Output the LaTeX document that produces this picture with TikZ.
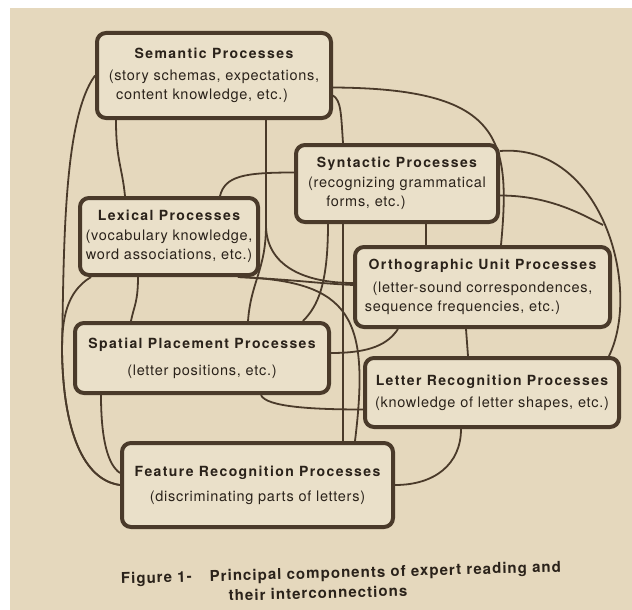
\documentclass[tikz,border=0pt]{standalone}
\usepackage{fontspec}
\setmainfont{TeX Gyre Heros}
\usepackage{tikz}

\definecolor{paper}{RGB}{229,216,189}
\definecolor{boxfill}{RGB}{234,224,201}
\definecolor{ink}{RGB}{74,58,42}
\definecolor{textink}{RGB}{42,34,26}

\newcommand{\proctitle}[1]{{\fontsize{14}{19}\selectfont\bfseries\addfontfeature{LetterSpace=10}#1}}

\begin{document}
\begin{tikzpicture}[
	x=1pt, y=-1pt,
	proc/.style={
		draw=ink, line width=4pt,
		rounded corners=9pt,
		fill=boxfill,
		inner sep=0pt,
		align=center,
		text=textink,
		font=\fontsize{14.5}{19}\selectfont\addfontfeature{LetterSpace=5}
	},
	link/.style={draw=ink, line width=1.8pt},
	caption/.style={
		text=textink, inner sep=0pt, rotate=1.5,
		font=\fontsize{15}{18}\selectfont\bfseries\addfontfeature{LetterSpace=7}
	}
]
\useasboundingbox (0,0) rectangle (632,610);
\fill[white] (0,0) rectangle (632,610);
\fill[paper] (10,8) rectangle (632,610);

% processes
\node[proc, minimum width=234pt, minimum height=85pt] (sem) at (214,75.5)
	{\proctitle{Semantic Processes}\\[3pt]
	(story schemas, expectations,\\
	\hspace*{-24pt}content knowledge, etc.)};
\node[proc, minimum width=202pt, minimum height=77pt] (syn) at (397,183.5)
	{\proctitle{Syntactic Processes}\\[1pt]
	(recognizing grammatical\\
	\hspace*{-62pt}forms, etc.)};
\node[proc, minimum width=178pt, minimum height=77pt] (lex) at (169,236.5)
	{\proctitle{Lexical Processes}\\[1pt]
	(vocabulary knowledge,\\
	word associations, etc.)};
\node[proc, minimum width=255pt, minimum height=80pt] (orth) at (482.5,287)
	{\proctitle{Orthographic Unit Processes}\\[4pt]
	(letter-sound correspondences,\\
	\hspace*{-40pt}sequence frequencies, etc.)};
\node[proc, minimum width=254pt, minimum height=70pt] (spat) at (202,358)
	{\proctitle{Spatial Placement Processes}\\[8pt]
	(letter positions, etc.)};
\node[proc, minimum width=254pt, minimum height=69pt] (lett) at (492,392.5)
	{\proctitle{Letter Recognition Processes}\\[3pt]
	(knowledge of letter shapes, etc.)};
\node[proc, minimum width=271pt, minimum height=84pt] (feat) at (257.5,485)
	{\proctitle{Feature Recognition Processes}\\[6pt]
	(discriminating parts of letters)};

% bend points shared by two links
\coordinate (lbend) at (62,350);
\coordinate (join) at (603,225);

% interconnections
\draw[link] ([xshift=21pt]sem.south west) .. controls +(0,40) and +(-3,-30) .. ([xshift=47pt]lex.north west);
\draw[link] ([xshift=171pt]sem.south west) -- ++(0,105) .. controls +(0,45) and +(3,-40) .. ([xshift=175pt]spat.north west);
\draw[link] ([xshift=171pt]sem.south west) -- ++(0,105) .. controls +(0,40) and +(-50,0) .. ([yshift=4pt]orth.west);
\draw[link] ([yshift=-12pt]sem.east) .. controls +(169,1) and +(10,-107) .. ([xshift=148pt]orth.north west);
\draw[link] ([yshift=-20pt]sem.east) .. controls +(8,5) and +(-2,-30) .. ([xshift=49pt]syn.north west);
\draw[link] (sem.west) .. controls +(-32,44) and +(2,-100) .. (lbend)
	.. controls +(1,80) and +(-37,-5) .. (feat.west);

\draw[link] ([yshift=11pt]syn.west) .. controls +(-50,0) and +(5,-20) .. ([xshift=142pt]lex.north west);
\draw[link] ([xshift=34pt]syn.south west) .. controls +(0,60) and +(15,-15) .. ([xshift=230pt]spat.north west);
\draw[link] ([xshift=49pt]syn.south west) -- ([xshift=223pt]feat.north west);
\draw[link] ([xshift=132pt]syn.south west) -- ([xshift=73pt]orth.north west);
\draw[link] ([yshift=-8pt]syn.north east) .. controls +(102,-8) and +(33,-68) .. ([xshift=-12pt]lett.north east);
\draw[link] ([yshift=-12pt]syn.east) .. controls +(50,0) and +(-20,-10) .. (join);

\draw[link] ([xshift=-22pt]lex.south east) .. controls +(60,3) and +(-40,-2) .. ([yshift=2pt]orth.west);
\draw[link] ([xshift=-22pt]lex.south east) .. controls +(114,4) and +(15,-123) .. ([xshift=235pt]feat.north west);
\draw[link] ([xshift=60pt]lex.south west) .. controls +(0,25) and +(3,-15) .. ([xshift=58pt]spat.north west);
\draw[link] ([xshift=13pt]lex.south west) .. controls +(-25,15) and +(0,-30) .. (lbend)
	.. controls +(1,80) and +(-37,-5) .. (feat.west);

\draw[link] ([xshift=113pt]orth.south west) -- ([xshift=105pt]lett.north west);
\draw[link] ([yshift=5pt]spat.east) .. controls +(40,0) and +(-10,15) .. ([xshift=45pt]orth.south west);
\draw[link] ([xshift=188pt]spat.south west) .. controls +(5,12) and +(-50,0) .. ([yshift=-17pt]lett.west);
\draw[link] ([xshift=28pt]spat.south west) .. controls +(0,45) and +(-12,-8) .. ([yshift=12pt]feat.west);
\draw[link] ([xshift=98pt]lett.south west) .. controls +(0,35) and +(40,0) .. (feat.east);

% caption
\node[caption] (cap1) at (341,574) {Figure 1-\hspace{18pt}Principal components of expert reading and};
\node[caption] (cap2) at (318,593) {their interconnections};
\end{tikzpicture}
\end{document}
